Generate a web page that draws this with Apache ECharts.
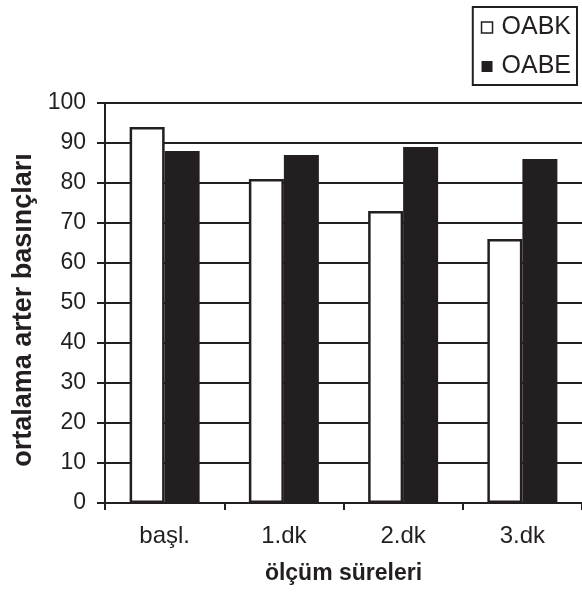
<!DOCTYPE html>
<html>
<head>
<meta charset="utf-8">
<script src="https://cdn.jsdelivr.net/npm/echarts@6/dist/echarts.min.js"></script>
<style>
  html, body { margin: 0; padding: 0; background: #fff; }
  #main { width: 582px; height: 598px; }
</style>
</head>
<body>
<div id="main"></div>
<script>
  var categories = ['başl.', '1.dk', '2.dk', '3.dk'];
  var oabk = [94, 81, 73, 66];   // beyaz sütunlar
  var oabe = [88, 87, 89, 86];   // siyah sütunlar
  var yTicks = { min: 0, max: 100, interval: 10 };

  var ink = '#231f20';
  var font = '"Liberation Sans", Arial, Helvetica, sans-serif';

  var chart = echarts.init(document.getElementById('main'));
  var option = {
    backgroundColor: '#fff',
    animation: false,
    textStyle: { fontFamily: font, color: ink },
    legend: {
      orient: 'vertical',
      right: 5,
      top: 7,
      padding: [8, 6, 6, 8],
      borderColor: ink,
      borderWidth: 2,
      itemWidth: 11,
      itemHeight: 11,
      itemGap: 14,
      icon: 'rect',
      textStyle: { fontSize: 25, color: ink, fontFamily: font, padding: [0, 0, 0, 4] },
      data: [
        { name: 'OABK', itemStyle: { color: '#fff', borderColor: ink, borderWidth: 1.5 } },
        { name: 'OABE', itemStyle: { color: ink } }
      ]
    },
    grid: { left: 105, top: 103, bottom: 95, right: -3 },
    xAxis: {
      type: 'category',
      data: categories,
      name: 'ölçüm süreleri',
      nameLocation: 'middle',
      nameGap: 59,
      nameTextStyle: { fontSize: 23, fontWeight: 'bold', color: ink, fontFamily: font },
      axisLine: { lineStyle: { color: ink, width: 2 } },
      axisTick: { show: true, length: 7, lineStyle: { color: ink, width: 2 } },
      axisLabel: { fontSize: 24, color: ink, margin: 21, fontFamily: font },
      splitLine: { show: false }
    },
    yAxis: {
      type: 'value',
      min: yTicks.min,
      max: yTicks.max,
      interval: yTicks.interval,
      name: 'ortalama arter basınçları',
      nameLocation: 'middle',
      nameGap: 66,
      nameRotate: 90,
      nameTextStyle: { fontSize: 27, fontWeight: 'bold', color: ink, fontFamily: font, padding: [0, 14, 0, 0] },
      axisLine: { show: true, lineStyle: { color: ink, width: 2 } },
      axisTick: { show: true, length: 8, lineStyle: { color: ink, width: 2 } },
      axisLabel: { fontSize: 23, color: ink, margin: 19, fontFamily: font },
      splitLine: { show: true, lineStyle: { color: ink, width: 2 } }
    },
    series: [
      {
        name: 'OABK',
        type: 'bar',
        data: oabk,
        barWidth: 35,
        barGap: 0,
        itemStyle: { color: '#fff', borderColor: ink, borderWidth: 2.5 }
      },
      {
        name: 'OABE',
        type: 'bar',
        data: oabe,
        barWidth: 35,
        barGap: 0,
        itemStyle: { color: ink }
      }
    ]
  };
  chart.setOption(option);
</script>
</body>
</html>
